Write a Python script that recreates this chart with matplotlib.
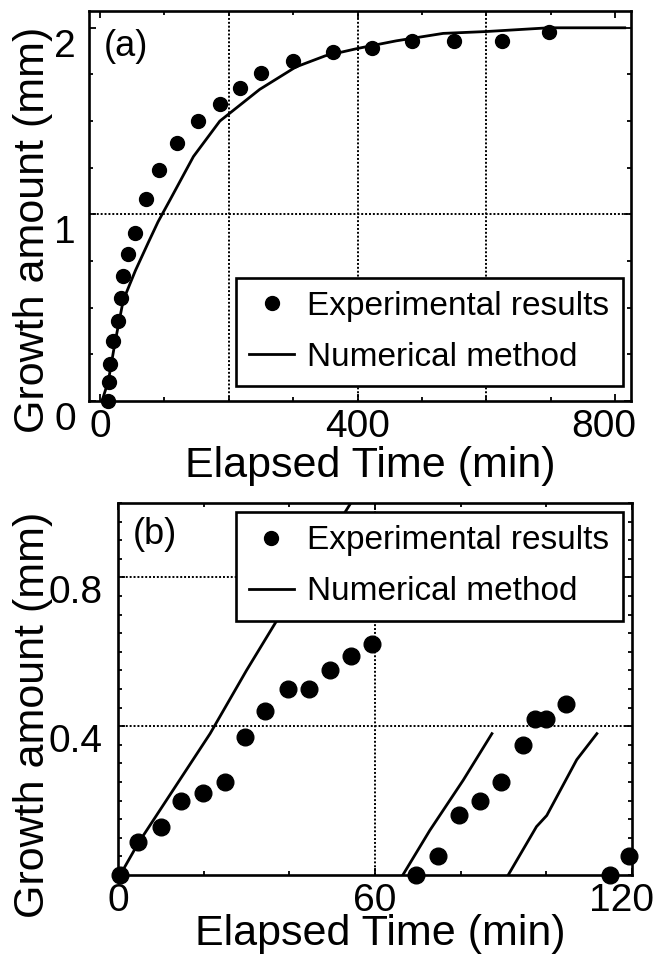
import matplotlib
matplotlib.use('Agg')
import matplotlib.pyplot as plt
import matplotlib.transforms as mtransforms
from matplotlib.ticker import MultipleLocator
from matplotlib.lines import Line2D

plt.rcParams['font.family'] = ['Liberation Sans', 'DejaVu Sans']

# ---------------- data: panel (a) ----------------
exp_a_time = [13, 14, 16, 20, 28, 32, 36, 44, 54, 72, 92, 120, 152, 186, 217,
              250, 300, 362, 422, 485, 550, 625, 697]
exp_a_growth = [0.0, 0.10, 0.20, 0.32, 0.43, 0.55, 0.67, 0.79, 0.90, 1.08, 1.24,
                1.38, 1.50, 1.59, 1.68, 1.76, 1.82, 1.87, 1.89, 1.93, 1.93, 1.93, 1.98]
num_a_time = [3, 13, 23, 36, 55, 75, 90, 109, 145, 186, 248, 304, 350, 401,
              460, 533, 600, 697, 815]
num_a_growth = [0.0, 0.11, 0.31, 0.54, 0.70, 0.85, 0.96, 1.08, 1.31, 1.50, 1.67,
                1.79, 1.85, 1.89, 1.93, 1.97, 1.98, 2.00, 2.00]
a_xticks = [0, 400, 800]
a_yticks = [0, 1, 2]
a_grid_x = [200, 400, 600]
a_grid_y = [1]

# ---------------- data: panel (b) ----------------
exp_b_time = [0.4, 4.7, 10.0, 14.7, 19.8, 25.0, 29.7, 34.4, 39.7, 44.7, 49.6,
              54.3, 59.2, 69.6, 74.7, 79.7, 84.5, 89.5, 94.5, 97.4, 99.9, 104.5,
              114.8, 119.4]
exp_b_growth = [0.0, 0.09, 0.13, 0.20, 0.22, 0.25, 0.37, 0.44, 0.50, 0.50, 0.55,
                0.59, 0.62, 0.0, 0.05, 0.16, 0.20, 0.25, 0.35, 0.42, 0.42, 0.46,
                0.0, 0.05]
num_b1_time = [0.5, 4.7, 21.5, 30.0, 36.7, 56.0]
num_b1_growth = [0.0, 0.085, 0.38, 0.55, 0.677, 1.03]
num_b2_time = [66.5, 72.8, 80.6, 87.3]
num_b2_growth = [0.0, 0.12, 0.255, 0.38]
num_b3_time = [91.1, 97.7, 100.1, 107.1, 111.8]
num_b3_growth = [0.0, 0.13, 0.16, 0.31, 0.38]
b_xticks = [0, 60, 120]
b_yticks = [0.4, 0.8]
b_grid_x = [60]
b_grid_y = [0.4, 0.8]

labels = ['Experimental results', 'Numerical method']

W, H = 662, 964
fig = plt.figure(figsize=(W / 100, H / 100), dpi=100)
ax1 = fig.add_axes([88.5 / W, 1 - 401 / H, 542 / W, 390 / H])
ax2 = fig.add_axes([118 / W, 1 - 875 / H, 514 / W, 372 / H])

TICK_FS = 28
LABEL_FS = 31
LEG_FS = 24
LW = 2.0


def style(ax, xpad, ypad):
    for s in ax.spines.values():
        s.set_linewidth(1.9)
    ax.tick_params(which='both', direction='in', top=True, right=True, width=1.3)
    ax.tick_params(which='major', length=5, labelsize=TICK_FS)
    ax.tick_params(which='minor', length=3)
    ax.tick_params(axis='x', pad=xpad)
    ax.tick_params(axis='y', pad=ypad)


def make_legend(ax, loc, anchor):
    h = [Line2D([], [], ls='none', marker='o', ms=10, color='black'),
         Line2D([], [], ls='-', lw=LW, color='black')]
    leg = ax.legend(h, labels, loc=loc, bbox_to_anchor=anchor, fontsize=LEG_FS,
                    frameon=True, fancybox=False, edgecolor='black', framealpha=1,
                    borderpad=0.4, labelspacing=0.6, handlelength=1.35,
                    handletextpad=0.4, borderaxespad=0)
    leg.get_frame().set_linewidth(1.9)
    leg.set_zorder(10)
    return leg


def shift_labels(ax, ydown_px, last_x_left_px):
    off_y = mtransforms.ScaledTranslation(0, -ydown_px / 100, fig.dpi_scale_trans)
    for lab in ax.get_yticklabels():
        lab.set_transform(lab.get_transform() + off_y)
    xl = ax.get_xticklabels()
    off_x = mtransforms.ScaledTranslation(-last_x_left_px / 100, 0, fig.dpi_scale_trans)
    xl[-1].set_transform(xl[-1].get_transform() + off_x)


gkw = dict(color='black', ls=(0, (1, 1)), lw=1.4, zorder=1)

# ---------------- panel (a) ----------------
for g in a_grid_x:
    ax1.axvline(g, **gkw)
for g in a_grid_y:
    ax1.axhline(g, **gkw)
ax1.plot(num_a_time, num_a_growth, color='black', lw=LW, zorder=3)
ax1.plot(exp_a_time, exp_a_growth, ls='none', marker='o', ms=10, color='black',
         zorder=4, clip_on=False)
ax1.set_xlim(-18, 824)
ax1.set_ylim(0, 2.09)
ax1.set_xticks(a_xticks)
ax1.set_yticks(a_yticks)
ax1.xaxis.set_minor_locator(MultipleLocator(100))
ax1.yaxis.set_minor_locator(MultipleLocator(0.25))
style(ax1, 6, 9)
ax1.set_xlabel('Elapsed Time (min)', fontsize=LABEL_FS)
ax1.set_ylabel('Growth amount (mm)', fontsize=LABEL_FS)
ax1.xaxis.set_label_coords(0.52, -0.166)
ax1.yaxis.set_label_coords(-0.103, 0.44)
ax1.xaxis.label.set_va('center')
ax1.yaxis.label.set_va('center')
ax1.text(0.069, 0.908, '(a)', transform=ax1.transAxes, fontsize=26,
         ha='center', va='center')
make_legend(ax1, 'lower right', (0.986, 0.038))
shift_labels(ax1, 15, 11)

# ---------------- panel (b) ----------------
for g in b_grid_x:
    ax2.axvline(g, **gkw)
for g in b_grid_y:
    ax2.axhline(g, **gkw)
for t, y in [(num_b1_time, num_b1_growth), (num_b2_time, num_b2_growth),
             (num_b3_time, num_b3_growth)]:
    ax2.plot(t, y, color='black', lw=LW, zorder=3)
ax2.plot(exp_b_time, exp_b_growth, ls='none', marker='o', ms=12, color='black',
         zorder=4, clip_on=False)
ax2.set_xlim(0, 120)
ax2.set_ylim(0, 1.0)
ax2.set_xticks(b_xticks)
ax2.set_yticks(b_yticks)
ax2.xaxis.set_minor_locator(MultipleLocator(20))
ax2.yaxis.set_minor_locator(MultipleLocator(0.05))
style(ax2, 6, 11)
ax2.set_xlabel('Elapsed Time (min)', fontsize=LABEL_FS)
ax2.set_ylabel('Growth amount (mm)', fontsize=LABEL_FS)
ax2.xaxis.set_label_coords(0.51, -0.158)
ax2.yaxis.set_label_coords(-0.165, 0.43)
ax2.xaxis.label.set_va('center')
ax2.yaxis.label.set_va('center')
ax2.text(0.071, 0.914, '(b)', transform=ax2.transAxes, fontsize=26,
         ha='center', va='center')
make_legend(ax2, 'upper right', (0.982, 0.976))
shift_labels(ax2, 12, 10)

fig.savefig('out.png', dpi=100)
